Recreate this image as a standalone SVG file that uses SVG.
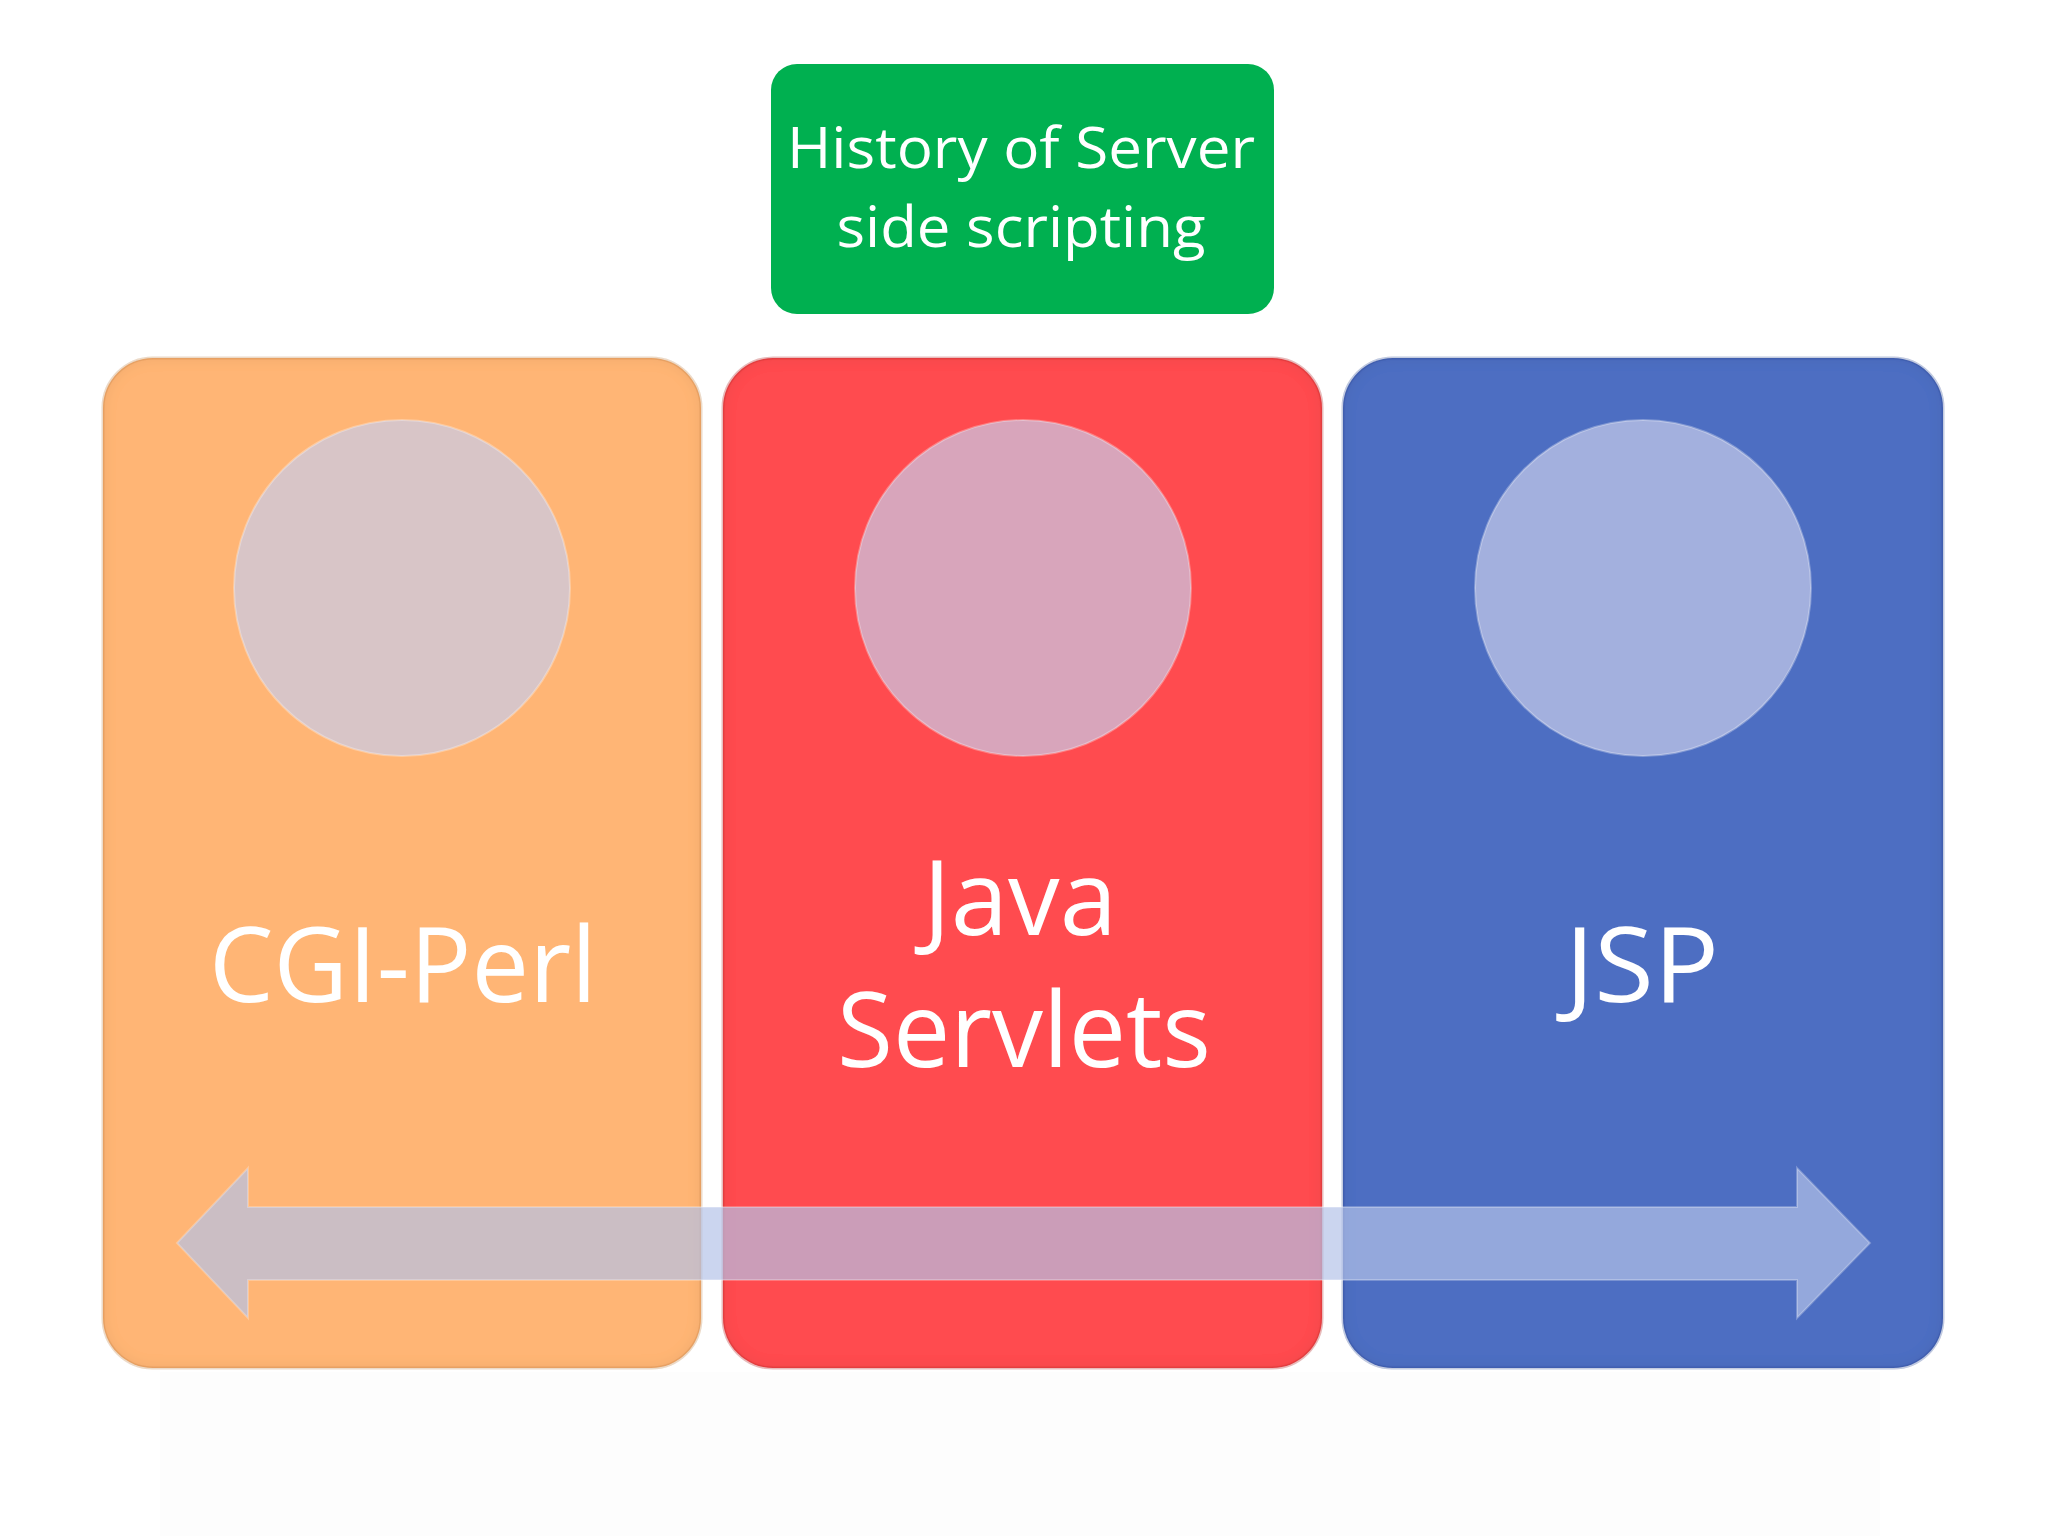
<svg xmlns="http://www.w3.org/2000/svg" width="2048" height="1536" viewBox="0 0 2048 1536">
<defs>
<style>
.card{stroke-width:3;stroke-opacity:0.25}
.disc{fill:rgb(199,204,234);fill-opacity:0.7;stroke:#ffffff;stroke-opacity:0.3;stroke-width:2}
.lbl{font-family:"Open Sans","Liberation Sans",sans-serif;fill:#ffffff;text-anchor:middle;font-variant-ligatures:none}
.big{font-size:104px}
.ttl{font-size:57px}
</style>
<filter id="bev" x="-5%" y="-5%" width="110%" height="110%">
<feGaussianBlur in="SourceAlpha" stdDeviation="7" result="b"/>
<feComposite in="SourceAlpha" in2="b" operator="out" result="edge"/>
<feFlood flood-color="#000000" flood-opacity="0.16"/>
<feComposite in2="edge" operator="in" result="sh"/>
<feMerge><feMergeNode in="SourceGraphic"/><feMergeNode in="sh"/></feMerge>
</filter>
</defs>
<rect width="2048" height="1536" fill="#ffffff"/>
<rect x="160" y="1372" width="1720" height="164" fill="#f7f7f9" opacity="0.25"/>

<g id="title">
<rect x="771" y="64" width="503" height="250" rx="26" fill="#00B050"/>
<text class="lbl ttl" x="1021" y="168" textLength="468" lengthAdjust="spacingAndGlyphs">History of Server</text>
<text class="lbl ttl" x="1021" y="247" textLength="369" lengthAdjust="spacingAndGlyphs">side scripting</text>
</g>

<g id="cgi-perl">
<rect class="card" x="103" y="358" width="598" height="1010" rx="50" fill="#FFB574" stroke="#c07a40" filter="url(#bev)"/>
<circle class="disc" cx="402" cy="588" r="168"/>
<text class="lbl big" x="403" y="1002" textLength="388" lengthAdjust="spacingAndGlyphs">CGI-Perl</text>
</g>

<g id="java-servlets">
<rect class="card" x="723" y="358" width="599" height="1010" rx="50" fill="#FF4C4F" stroke="#b02025" filter="url(#bev)"/>
<circle class="disc" cx="1023" cy="588" r="168"/>
<text class="lbl big" x="1020" y="935" textLength="194" lengthAdjust="spacingAndGlyphs">Java</text>
<text class="lbl big" x="1024" y="1067" textLength="374" lengthAdjust="spacingAndGlyphs">Servlets</text>
</g>

<g id="jsp">
<rect class="card" x="1343" y="358" width="600" height="1010" rx="50" fill="#4E6EC2" stroke="#2a4590" filter="url(#bev)"/>
<circle class="disc" cx="1643" cy="588" r="168"/>
<text class="lbl big" x="1642" y="1002" textLength="154" lengthAdjust="spacingAndGlyphs">JSP</text>
</g>

<g id="connectors">
<polygon points="177,1243 248,1168 248,1207 1797,1207 1797,1168 1870,1243 1797,1318 1797,1280 248,1280 248,1318" fill="rgb(179,194,232)" fill-opacity="0.69" stroke="#ffffff" stroke-opacity="0.25" stroke-width="2"/>
</g>
</svg>
